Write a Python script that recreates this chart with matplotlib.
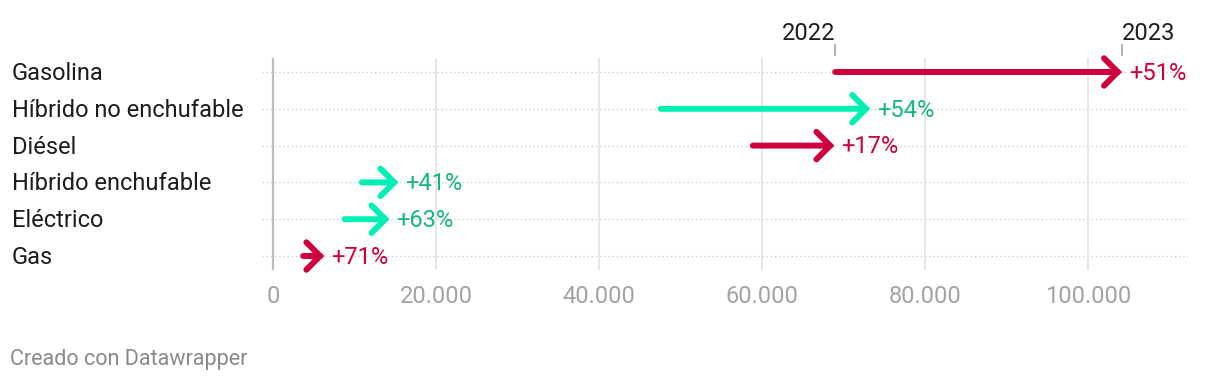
import matplotlib
matplotlib.use("Agg")
import matplotlib.pyplot as plt
from matplotlib.ticker import FuncFormatter

plt.rcParams['font.family'] = ['Roboto', 'DejaVu Sans']

categories = ["Gasolina", "Híbrido no enchufable", "Diésel", "Híbrido enchufable", "Eléctrico", "Gas"]
v2022 = [69000, 47600, 58900, 10900, 8800, 3700]
v2023 = [104200, 73300, 68900, 15400, 14300, 6300]
pct_labels = ["+51%", "+54%", "+17%", "+41%", "+63%", "+71%"]
kinds = ["red", "green", "red", "green", "green", "red"]
xticks = [0, 20000, 40000, 60000, 80000, 100000]

RED = "#cf003d"
GREEN_ARROW = "#00f0b4"
GREEN_TEXT = "#16b77c"

W, H = 1220, 384
fig = plt.figure(figsize=(W/100, H/100), dpi=100)
ax = fig.add_axes([262/W, 1-270/H, (1188-262)/W, (270-58)/H])

ax.set_xlim(-1350, 112300)
ax.set_ylim(5.38, -0.38)

for s in ax.spines.values():
    s.set_visible(False)
ax.tick_params(axis='both', length=0)
ax.set_yticks([])
ax.set_xticks(xticks)
ax.xaxis.set_major_formatter(FuncFormatter(lambda v, p: f"{int(v):,}".replace(",", ".")))
for lab in ax.get_xticklabels():
    lab.set_color("#a3a3a3")
    lab.set_fontsize(17)
ax.tick_params(axis='x', pad=11)

for xt in xticks:
    if xt == 0:
        ax.axvline(xt, color="#bdbdbd", lw=1.6, zorder=1)
    else:
        ax.axvline(xt, color="#e3e3e3", lw=1.2, zorder=1)

for i in range(len(categories)):
    ax.axhline(i, color="#cfcfcf", lw=1.0, ls=(0, (1, 2)), zorder=0.5)

for i, (cat, a, b, lab, k) in enumerate(zip(categories, v2022, v2023, pct_labels, kinds)):
    col = RED if k == "red" else GREEN_ARROW
    tcol = RED if k == "red" else GREEN_TEXT
    ax.annotate("", xy=(b, i), xytext=(a, i),
                arrowprops=dict(arrowstyle="->,head_length=0.55,head_width=0.55",
                                color=col, lw=4.3, shrinkA=0, shrinkB=0,
                                mutation_scale=18, capstyle='round', joinstyle='miter'),
                zorder=3)
    ax.annotate(lab, xy=(b, i), xytext=(5, -1), textcoords="offset points",
                ha="left", va="center", color=tcol, fontsize=17, zorder=4)
    fig.text(12/W, (ax.transData.transform((0, i))[1] - 1.5)/H, cat, ha="left", va="center",
             fontsize=17, color="#1d1d1d")

# year annotations above the first row
trans = ax.get_xaxis_transform()
for xv, ha, txt in [(v2022[0], "right", "2022"), (v2023[0], "left", "2023")]:
    ax.plot([xv, xv], [1 + 3/212, 1 + 13/212], transform=trans, color="#9a9a9a",
            lw=1.1, clip_on=False)
    ax.text(xv, 1 + 13/212, txt, transform=trans, ha=ha, va="bottom",
            fontsize=17, color="#1d1d1d", clip_on=False)

fig.text(10/W, 1-360/H, "Creado con Datawrapper", ha="left", va="center",
         fontsize=15.5, color="#8a8a8a")

fig.savefig("out.png", dpi=100)
